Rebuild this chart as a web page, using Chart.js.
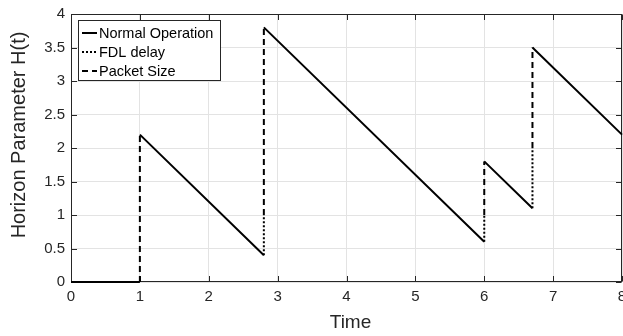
<!DOCTYPE html>
<html><head><meta charset="utf-8">
<script src="https://cdn.jsdelivr.net/npm/chart.js@4/dist/chart.umd.min.js"></script>
<style>html,body{margin:0;padding:0;background:#fff;overflow:hidden}#wrap{width:623px;height:336px;position:relative}canvas{display:block}</style>
</head><body><div id="wrap"><canvas id="c" width="623" height="336" style="width:623px;height:336px"></canvas></div>
<script>
const xTicks = [0,1,2,3,4,5,6,7,8];
const yTicks = [0,0.5,1,1.5,2,2.5,3,3.5,4];
const xTitle = 'Time';
const yTitle = 'Horizon Parameter H(t)';
const seriesNames = ['Normal Operation','FDL delay','Packet Size'];
// null separates segments
const normalX = [0,1,null,1,2.8,null,2.8,6,null,6,6.7,null,6.7,8];
const normalY = [0,0,null,2.2,0.4,null,3.8,0.6,null,1.8,1.1,null,3.5,2.2];
const fdlX = [2.8,2.8,null,6,6,null,6.7,6.7];
const fdlY = [0.4,1.0,null,0.6,1.0,null,1.1,2.0];
const pktX = [1,1,null,2.8,2.8,null,6,6,null,6.7,6.7];
const pktY = [0,2.2,null,1.0,3.8,null,1.0,1.8,null,2.0,3.5];

function pts(xs, ys){
  const out=[]; let last=0;
  for(let i=0;i<xs.length;i++){
    if(xs[i]===null){ out.push({x:last,y:null}); }
    else { out.push({x:xs[i],y:ys[i]}); last=xs[i]; }
  }
  return out;
}
const FONT = "'Liberation Sans', Arial, Helvetica, sans-serif";
const TXT = '#262626';
const styles = [[], [2,2], [6,4]];

const boxPlugin = {
  id:'boxPlugin',
  beforeDatasetsDraw(chart){
    const ctx=chart.ctx, a=chart.chartArea, xs=chart.scales.x, ys=chart.scales.y;
    ctx.save();
    ctx.strokeStyle=TXT; ctx.lineWidth=1; ctx.setLineDash([]);
    const L=Math.round(a.left)+0.5, R=Math.round(a.right)-0.5, T=Math.round(a.top)+0.5, B=Math.round(a.bottom)-0.5;
    ctx.strokeRect(L,T,R-L,B-T);
    const tl=5.5;
    ctx.beginPath();
    xTicks.forEach(v=>{const p=Math.round(xs.getPixelForValue(v))+0.5;
      ctx.moveTo(p,B);ctx.lineTo(p,B-tl);ctx.moveTo(p,T);ctx.lineTo(p,T+tl);});
    yTicks.forEach(v=>{const p=Math.round(ys.getPixelForValue(v))+0.5;
      ctx.moveTo(L,p);ctx.lineTo(L+tl,p);ctx.moveTo(R,p);ctx.lineTo(R-tl,p);});
    ctx.stroke();
    ctx.restore();
  },
  afterDraw(chart){
    const ctx=chart.ctx, a=chart.chartArea;
    ctx.save();
    // axis titles
    ctx.fillStyle=TXT; ctx.textAlign='center'; ctx.textBaseline='middle';
    ctx.font='19px '+FONT;
    ctx.fillText(xTitle,(a.left+a.right)/2+4,323);
    ctx.save(); ctx.translate(19,135); ctx.rotate(-Math.PI/2);
    ctx.font='20px '+FONT; ctx.fillText(yTitle,0,0); ctx.restore();
    // legend
    const lx=78.5, ly=20.5, lw=142, lh=60;
    ctx.fillStyle='#fff'; ctx.fillRect(lx,ly,lw,lh);
    ctx.strokeStyle=TXT; ctx.lineWidth=1; ctx.strokeRect(lx,ly,lw,lh);
    ctx.font='14.5px '+FONT; ctx.textAlign='left'; ctx.textBaseline='middle';
    seriesNames.forEach((n,i)=>{
      const y=33+i*19;
      ctx.strokeStyle='#000'; ctx.lineWidth=2; ctx.setLineDash(styles[i]);
      ctx.beginPath(); ctx.moveTo(82,y); ctx.lineTo(97,y); ctx.stroke();
      ctx.setLineDash([]);
      ctx.fillStyle='#000'; ctx.fillText(n,99,y+0.5);
    });
    ctx.restore();
  }
};

new Chart(document.getElementById('c'),{
  type:'line',
  data:{datasets:[
    {label:seriesNames[0],data:pts(normalX,normalY),borderColor:'#000',borderWidth:2,pointRadius:0,spanGaps:false,tension:0,clip:false},
    {label:seriesNames[1],data:pts(fdlX,fdlY),borderColor:'#000',borderWidth:2,borderDash:styles[1],pointRadius:0,spanGaps:false,tension:0,clip:false},
    {label:seriesNames[2],data:pts(pktX,pktY),borderColor:'#000',borderWidth:2,borderDash:styles[2],pointRadius:0,spanGaps:false,tension:0,clip:false}
  ]},
  options:{
    responsive:false, animation:false, devicePixelRatio:1,
    layout:{padding:{top:14,right:1,left:0,bottom:0}},
    plugins:{legend:{display:false},tooltip:{enabled:false}},
    scales:{
      x:{type:'linear',min:0,max:8,
        afterBuildTicks:s=>{s.ticks=xTicks.map(v=>({value:v}));},
        afterFit:s=>{s.height=54;s.paddingLeft=0;s.paddingRight=0;},
        ticks:{font:{family:FONT,size:15},color:TXT,padding:6,maxRotation:0,autoSkip:false,callback:v=>String(v)},
        grid:{color:'#e3e3e3',drawTicks:false},border:{display:false}},
      y:{type:'linear',min:0,max:4,
        afterBuildTicks:s=>{s.ticks=yTicks.map(v=>({value:v}));},
        afterFit:s=>{s.width=71;s.paddingTop=0;s.paddingBottom=0;},
        ticks:{font:{family:FONT,size:15},color:TXT,padding:6,autoSkip:false,callback:v=>String(v)},
        grid:{color:'#e3e3e3',drawTicks:false},border:{display:false}}
    }
  },
  plugins:[boxPlugin]
});
</script></body></html>
